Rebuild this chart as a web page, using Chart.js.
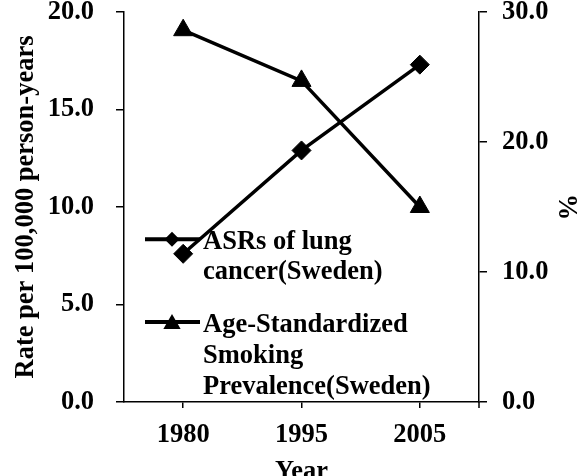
<!DOCTYPE html>
<html><head><meta charset="utf-8">
<script src="https://cdn.jsdelivr.net/npm/chart.js@4.4.1/dist/chart.umd.min.js"></script>
<style>html,body{margin:0;padding:0;background:#fff}#wrap{width:587px;height:476px;position:relative}</style>
</head><body><div id="wrap"><canvas id="c"></canvas></div>
<script>
// ---- data ----
const categories = ['1980', '1995', '2005'];
const asrLungCancer = [7.6, 12.9, 17.3];          // left axis
const smokingPrevalence = [28.6, 24.7, 15.0];     // right axis (%)
const leftTicks = [0, 5, 10, 15, 20];
const rightTicks = [0, 10, 20, 30];
const seriesNames = ['ASRs of lung cancer(Sweden)', 'Age-Standardized Smoking Prevalence(Sweden)'];
const legendLines = [['ASRs of lung', 'cancer(Sweden)'], ['Age-Standardized', 'Smoking', 'Prevalence(Sweden)']];
const xTitle = 'Year';
const yTitle = 'Rate per 100,000 person-years';
const y1Title = '%';

// ---- style ----
const FAMILY = "'Liberation Serif', 'Times New Roman', serif";
const tickFont = {family: FAMILY, size: 26.5, weight: 'bold'};
const titleFont = {family: FAMILY, size: 26.5, weight: 'bold'};

function drawMarker(ctx, style, x, y, r) {
  ctx.beginPath();
  if (style === 'rectRot') {
    ctx.moveTo(x, y - r); ctx.lineTo(x + r, y); ctx.lineTo(x, y + r); ctx.lineTo(x - r, y);
  } else {
    ctx.moveTo(x, y - r);
    ctx.lineTo(x + r * Math.sin(2 * Math.PI / 3), y - r * Math.cos(2 * Math.PI / 3));
    ctx.lineTo(x + r * Math.sin(4 * Math.PI / 3), y - r * Math.cos(4 * Math.PI / 3));
  }
  ctx.closePath();
  ctx.fillStyle = '#000'; ctx.fill();
}

const extrasPlugin = {
  id: 'extras',
  afterDraw(chart) {
    const {ctx, chartArea: a} = chart;
    ctx.save();
    // right boundary tick on the category axis
    ctx.strokeStyle = '#000'; ctx.lineWidth = 1.5;
    ctx.beginPath(); ctx.moveTo(a.right, a.bottom); ctx.lineTo(a.right, a.bottom + 6); ctx.stroke();

    // legend inside plot
    const items = [
      {style: 'rectRot', r: 7.5, lineY: a.top + 227.3, base: [a.top + 237, a.top + 267]},
      {style: 'triangle', r: 10, lineY: a.top + 310, base: [a.top + 320, a.top + 351, a.top + 382]}
    ];
    const x0 = a.left + 21, x1 = a.left + 76, xm = a.left + 48, xt = a.left + 79;
    ctx.font = 'bold 26.5px ' + FAMILY;
    ctx.textAlign = 'left'; ctx.textBaseline = 'alphabetic';
    items.forEach((it, i) => {
      ctx.strokeStyle = '#000'; ctx.lineWidth = 4;
      ctx.beginPath(); ctx.moveTo(x0, it.lineY); ctx.lineTo(x1, it.lineY); ctx.stroke();
      drawMarker(ctx, it.style, xm, it.lineY + (it.style === 'triangle' ? 2 : 0), it.r);
      ctx.fillStyle = '#000';
      legendLines[i].forEach((t, j) => ctx.fillText(t, xt, it.base[j]));
    });
    ctx.restore();
  }
};

new Chart(document.getElementById('c'), {
  type: 'line',
  data: {
    labels: categories,
    datasets: [
      {label: seriesNames[0], data: asrLungCancer, yAxisID: 'y',
       borderColor: '#000', backgroundColor: '#000', borderWidth: 3.5,
       pointStyle: 'rectRot', pointRadius: 9.5, pointBorderWidth: 1, pointBackgroundColor: '#000', pointBorderColor: '#000'},
      {label: seriesNames[1], data: smokingPrevalence, yAxisID: 'y1',
       borderColor: '#000', backgroundColor: '#000', borderWidth: 3.5,
       pointStyle: 'triangle', pointRadius: 11, pointBorderWidth: 1, pointBackgroundColor: '#000', pointBorderColor: '#000'}
    ]
  },
  options: {
    responsive: true, maintainAspectRatio: false, animation: false,
    layout: {padding: {top: 10, bottom: 0, left: 0, right: 0}},
    plugins: {legend: {display: false}, tooltip: {enabled: false}},
    elements: {line: {tension: 0}},
    clip: false,
    scales: {
      x: {
        type: 'category', offset: true,
        grid: {offset: false, drawOnChartArea: false, drawTicks: true, tickLength: 6, color: '#000', lineWidth: 1.5},
        border: {display: true, color: '#000', width: 1.5},
        ticks: {font: tickFont, color: '#000', padding: 11, maxRotation: 0},
        title: {display: true, text: xTitle, font: titleFont, color: '#000', padding: {top: 0, bottom: -12}},
        afterFit(s) { s.height = 74; s.paddingLeft = 0; s.paddingRight = 0; }
      },
      y: {
        position: 'left', min: 0, max: 20,
        afterBuildTicks(s) { s.ticks = leftTicks.map(v => ({value: v})); },
        grid: {drawOnChartArea: false, drawTicks: true, tickLength: 8, color: '#000', lineWidth: 1.5},
        border: {display: true, color: '#000', width: 1.5},
        ticks: {font: tickFont, color: '#000', padding: 22, callback: v => Number(v).toFixed(1)},
        title: {display: true, text: yTitle, font: titleFont, color: '#000', padding: {top: 10, bottom: 0}},
        afterFit(s) { s.width = 124; s.paddingTop = 0; s.paddingBottom = 0; }
      },
      y1: {
        position: 'right', min: 0, max: 30,
        afterBuildTicks(s) { s.ticks = rightTicks.map(v => ({value: v})); },
        grid: {drawOnChartArea: false, drawTicks: true, tickLength: 8, color: '#000', lineWidth: 1.5},
        border: {display: true, color: '#000', width: 1.5},
        ticks: {font: tickFont, color: '#000', padding: 15, callback: v => Number(v).toFixed(1)},
        title: {display: true, text: y1Title, font: titleFont, color: '#000', padding: {top: 5, bottom: 0}},
        afterFit(s) { s.width = 108; s.paddingTop = 0; s.paddingBottom = 0; }
      }
    }
  },
  plugins: [extrasPlugin]
});
</script>
</body></html>
